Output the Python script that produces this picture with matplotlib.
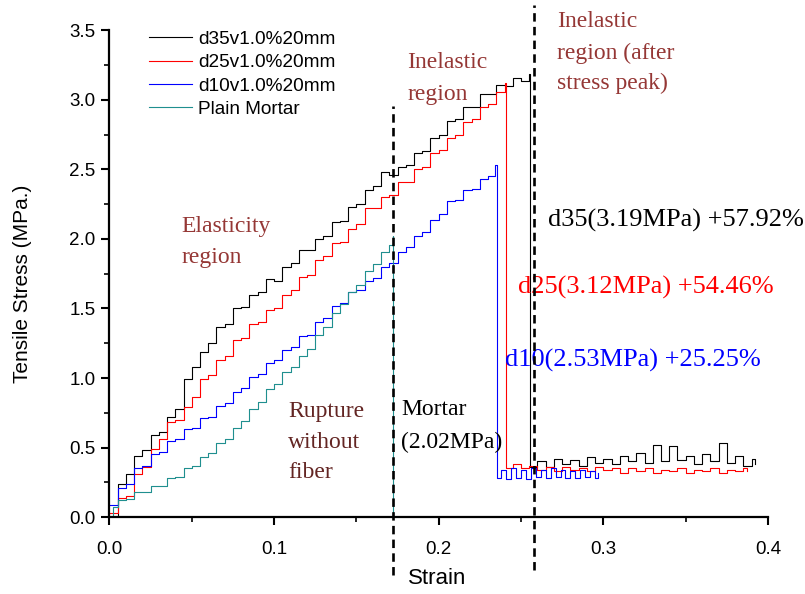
import matplotlib
matplotlib.use('Agg')
import matplotlib.pyplot as plt
from matplotlib.ticker import MultipleLocator

# ---------------- data ----------------
strain_d35 = [0.000, 0.005, 0.010, 0.015, 0.020, 0.025, 0.030, 0.035, 0.040, 0.045,
              0.050, 0.055, 0.060, 0.065, 0.070, 0.075, 0.080, 0.085, 0.090, 0.095,
              0.100, 0.105, 0.110, 0.115, 0.120, 0.125, 0.130, 0.135, 0.140, 0.145,
              0.150, 0.155, 0.160, 0.165, 0.170, 0.175, 0.180, 0.185, 0.190, 0.195,
              0.200, 0.205, 0.210, 0.215, 0.220, 0.225, 0.230, 0.235, 0.240, 0.245,
              0.250, 0.255, 0.2557,
              0.260, 0.265, 0.270, 0.275, 0.280, 0.285, 0.290, 0.295, 0.300, 0.305,
              0.310, 0.315, 0.320, 0.325, 0.330, 0.335, 0.340, 0.345, 0.350, 0.355,
              0.360, 0.365, 0.370, 0.375, 0.380, 0.385, 0.390, 0.392]
stress_d35 = [0.00, 0.24, 0.31, 0.44, 0.48, 0.59, 0.61, 0.72, 0.78, 0.99,
              1.08, 1.19, 1.25, 1.37, 1.39, 1.50, 1.51, 1.60, 1.62, 1.71,
              1.70, 1.80, 1.83, 1.92, 1.92, 2.00, 2.02, 2.12, 2.13, 2.23,
              2.25, 2.35, 2.38, 2.48, 2.46, 2.52, 2.53, 2.62, 2.63, 2.73,
              2.75, 2.85, 2.86, 2.95, 2.95, 3.04, 3.04, 3.11, 3.10, 3.16,
              3.14, 3.19, 0.36,
              0.40, 0.36, 0.42, 0.38, 0.41, 0.37, 0.43, 0.39, 0.42, 0.38,
              0.44, 0.40, 0.46, 0.39, 0.52, 0.40, 0.51, 0.41, 0.44, 0.38,
              0.45, 0.40, 0.53, 0.39, 0.44, 0.37, 0.42, 0.38]

strain_d25 = [0.000, 0.005, 0.010, 0.015, 0.020, 0.025, 0.030, 0.035, 0.040, 0.045,
              0.050, 0.055, 0.060, 0.065, 0.070, 0.075, 0.080, 0.085, 0.090, 0.095,
              0.100, 0.105, 0.110, 0.115, 0.120, 0.125, 0.130, 0.135, 0.140, 0.145,
              0.150, 0.155, 0.160, 0.165, 0.170, 0.175, 0.180, 0.185, 0.190, 0.195,
              0.200, 0.205, 0.210, 0.215, 0.220, 0.225, 0.230, 0.235, 0.240, 0.2405,
              0.241,
              0.245, 0.250, 0.255, 0.260, 0.265, 0.270, 0.275, 0.280, 0.285, 0.290,
              0.295, 0.300, 0.305, 0.310, 0.315, 0.320, 0.325, 0.330, 0.335, 0.340,
              0.345, 0.350, 0.355, 0.360, 0.365, 0.370, 0.375, 0.380, 0.385, 0.3875]
stress_d25 = [0.03, 0.14, 0.15, 0.31, 0.36, 0.49, 0.56, 0.68, 0.70, 0.79,
              0.86, 0.99, 1.02, 1.13, 1.16, 1.27, 1.29, 1.39, 1.40, 1.49,
              1.50, 1.60, 1.63, 1.73, 1.74, 1.85, 1.88, 1.97, 1.98, 2.07,
              2.11, 2.22, 2.22, 2.30, 2.32, 2.41, 2.41, 2.50, 2.52, 2.62,
              2.64, 2.73, 2.75, 2.84, 2.86, 2.95, 2.97, 3.06, 3.08, 3.12,
              0.35,
              0.38, 0.35, 0.37, 0.34, 0.36, 0.33, 0.36, 0.34, 0.35, 0.33,
              0.36, 0.34, 0.35, 0.32, 0.35, 0.33, 0.35, 0.32, 0.34, 0.33,
              0.35, 0.32, 0.34, 0.33, 0.35, 0.32, 0.34, 0.33, 0.35, 0.33]

strain_d10 = [0.000, 0.005, 0.010, 0.015, 0.020, 0.025, 0.030, 0.035, 0.040, 0.045,
              0.050, 0.055, 0.060, 0.065, 0.070, 0.075, 0.080, 0.085, 0.090, 0.095,
              0.100, 0.105, 0.110, 0.115, 0.120, 0.125, 0.130, 0.135, 0.140, 0.145,
              0.150, 0.155, 0.160, 0.165, 0.170, 0.175, 0.180, 0.185, 0.190, 0.195,
              0.200, 0.205, 0.210, 0.215, 0.220, 0.225, 0.230, 0.234, 0.2355,
              0.238, 0.241, 0.244, 0.247, 0.250, 0.253, 0.256, 0.259, 0.262, 0.265,
              0.268, 0.271, 0.274, 0.277, 0.280, 0.283, 0.286, 0.289, 0.292, 0.295,
              0.297]
stress_d10 = [0.09, 0.21, 0.24, 0.35, 0.37, 0.45, 0.47, 0.55, 0.56, 0.63,
              0.64, 0.71, 0.72, 0.80, 0.82, 0.90, 0.93, 1.01, 1.03, 1.11,
              1.13, 1.20, 1.22, 1.30, 1.31, 1.40, 1.43, 1.52, 1.54, 1.62,
              1.63, 1.70, 1.72, 1.80, 1.83, 1.91, 1.94, 2.02, 2.05, 2.14,
              2.18, 2.27, 2.28, 2.35, 2.36, 2.43, 2.45, 2.53, 0.28,
              0.34, 0.27, 0.35, 0.28, 0.34, 0.27, 0.35, 0.29, 0.34, 0.28,
              0.35, 0.29, 0.34, 0.28, 0.33, 0.28, 0.34, 0.29, 0.33, 0.28,
              0.32]

strain_mortar = [0.000, 0.002, 0.005, 0.010, 0.015, 0.020, 0.025, 0.030, 0.035, 0.040,
                 0.045, 0.050, 0.055, 0.060, 0.065, 0.070, 0.075, 0.080, 0.085, 0.090,
                 0.095, 0.100, 0.105, 0.110, 0.115, 0.120, 0.125, 0.130, 0.135, 0.140,
                 0.145, 0.150, 0.155, 0.160, 0.165, 0.170, 0.172, 0.1725, 0.248]
stress_mortar = [0.00, 0.07, 0.12, 0.13, 0.18, 0.18, 0.22, 0.22, 0.28, 0.29,
                 0.35, 0.37, 0.43, 0.46, 0.53, 0.56, 0.64, 0.69, 0.78, 0.83,
                 0.92, 0.96, 1.04, 1.08, 1.16, 1.21, 1.31, 1.37, 1.47, 1.53,
                 1.62, 1.67, 1.77, 1.82, 1.91, 1.96, 2.02, 0.00, 0.00]

series_labels = ['d35v1.0%20mm', 'd25v1.0%20mm', 'd10v1.0%20mm', 'Plain Mortar']
series_colors = ['#000000', '#ff0000', '#0000ff', '#1f8f8f']

x_ticks = [0.0, 0.1, 0.2, 0.3, 0.4]
y_ticks = [0.0, 0.5, 1.0, 1.5, 2.0, 2.5, 3.0, 3.5]

boundary_strains = [0.1725, 0.258]
boundary_tops = [2.96, 3.68]
boundary_bottoms = [-0.42, -0.38]

# annotations: (text, x, y_baseline, color, size)
annotations = [
    ('Elasticity', 0.0438, 2.052, '#953735', 17),
    ('region', 0.0438, 1.825, '#953735', 17),
    ('Inelastic', 0.181, 3.23, '#953735', 17),
    ('region', 0.181, 3.00, '#953735', 17),
    ('Inelastic', 0.272, 3.525, '#953735', 17),
    ('region (after', 0.272, 3.295, '#953735', 17),
    ('stress peak)', 0.272, 3.08, '#953735', 17),
    ('Rupture', 0.1087, 0.721, '#632523', 17),
    ('without', 0.1087, 0.494, '#632523', 17),
    ('fiber', 0.1087, 0.278, '#632523', 17),
    ('Mortar', 0.177, 0.734, '#000000', 17),
    ('(2.02MPa)', 0.177, 0.496, '#000000', 17),
    ('d35(3.19MPa) +57.92%', 0.2666, 2.088, '#000000', 19),
    ('d25(3.12MPa) +54.46%', 0.2483, 1.609, '#ff0000', 19),
    ('d10(2.53MPa) +25.25%', 0.2404, 1.081, '#0000ff', 19),
]

# ---------------- figure ----------------
plt.rcParams['font.family'] = ['Liberation Sans', 'DejaVu Sans']

fig = plt.figure(figsize=(8.05, 5.94), dpi=100)
ax = fig.add_axes([0.136, 0.1296, 0.818, 0.8191])

series = [(strain_d35, stress_d35), (strain_d25, stress_d25),
          (strain_d10, stress_d10), (strain_mortar, stress_mortar)]
for (sx, sy), lab, col in zip(series, series_labels, series_colors):
    ax.plot(sx, sy, drawstyle='steps-post', color=col, lw=0.8, label=lab)

for bx, bt, bb in zip(boundary_strains, boundary_tops, boundary_bottoms):
    ax.plot([bx, bx], [bb, bt], color='black', lw=1.9, linestyle=(0, (3.2, 2.0)),
            clip_on=False, zorder=5)

for txt, tx, ty, col, sz in annotations:
    ax.text(tx, ty, txt, color=col, fontsize=sz, family=['Liberation Serif', 'DejaVu Serif'],
            ha='left', va='baseline')

ax.set_xlim(0.0, 0.4)
ax.set_ylim(0.0, 3.5)
ax.set_xticks(x_ticks)
ax.set_yticks(y_ticks)
ax.set_xticklabels([f'{v:.1f}' for v in x_ticks])
ax.set_yticklabels([f'{v:.1f}' for v in y_ticks])
ax.xaxis.set_minor_locator(MultipleLocator(0.05))
ax.yaxis.set_minor_locator(MultipleLocator(0.25))

for s in ['top', 'right']:
    ax.spines[s].set_visible(False)
for s in ['left', 'bottom']:
    ax.spines[s].set_linewidth(1.6)

ax.tick_params(which='major', direction='out', length=6, width=1.5, labelsize=13.5)
ax.tick_params(axis='x', which='major', pad=11)
ax.tick_params(axis='y', which='major', pad=4)
ax.tick_params(which='minor', direction='out', length=3.5, width=1.2)

ax.set_xlabel('Strain', fontsize=16)
ax.set_ylabel('Tensile Stress (MPa.)', fontsize=15)
ax.xaxis.set_label_coords(0.497, -0.105)
ax.yaxis.set_label_coords(-0.118, 0.48)

ax.legend(loc='upper left', bbox_to_anchor=(0.06, 1.0), frameon=False, fontsize=13.7,
          handlelength=2.25, handletextpad=0.33, labelspacing=0.32,
          borderpad=0.0, borderaxespad=0.0)

fig.savefig('out.png', dpi=100)
